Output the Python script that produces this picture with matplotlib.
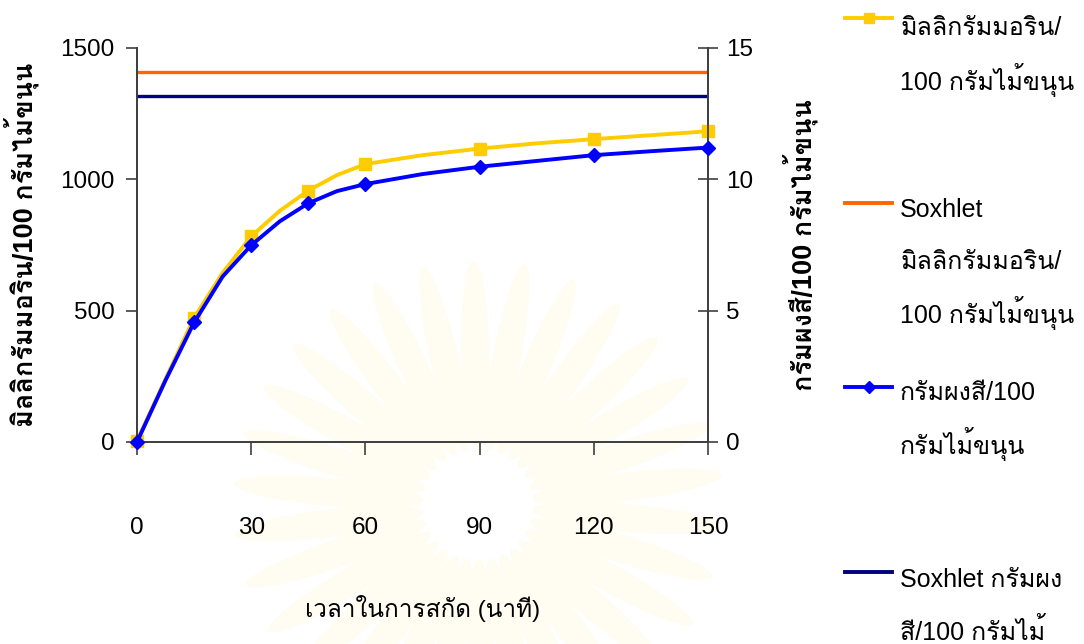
import matplotlib
matplotlib.use("Agg")
import numpy as np
import matplotlib.pyplot as plt
from matplotlib.lines import Line2D
from matplotlib.patches import Ellipse, Circle

# เวลาในการสกัด (นาที) - จุดบนเส้น
t = [0, 7.5, 15, 22.5, 30, 37.5, 45, 52.5, 60, 75, 90, 105, 120, 135, 150]
# จุดที่มี marker
t_mark = [0, 15, 30, 45, 60, 90, 120, 150]

# มิลลิกรัมมอริน/100 กรัมไม้ขนุน (แกนซ้าย)
morin = [5, 240, 473, 644, 783, 880, 957, 1016, 1058, 1092, 1117, 1137, 1153, 1168, 1183]
# กรัมผงสี/100 กรัมไม้ขนุน (แกนขวา)
powder = [0, 2.35, 4.55, 6.3, 7.49, 8.4, 9.09, 9.55, 9.82, 10.2, 10.48, 10.7, 10.92, 11.07, 11.21]

# ค่าจาก Soxhlet
soxhlet_morin = 1407
soxhlet_powder = 13.18

x_ticks = [0, 30, 60, 90, 120, 150]
left_ticks = [0, 500, 1000, 1500]
right_ticks = [0, 5, 10, 15]

labels = [["มิลลิกรัมมอริน/", "100 กรัมไม้ขนุน"],
          ["Soxhlet", "มิลลิกรัมมอริน/", "100 กรัมไม้ขนุน"],
          ["กรัมผงสี/100", "กรัมไม้ขนุน"],
          ["Soxhlet กรัมผง", "สี/100 กรัมไม้", "ขนุน"]]

FONT = ["Liberation Sans", "Loma"]
plt.rcParams["font.family"] = FONT

c_yellow = "#FFCC00"
c_orange = "#FF6600"
c_blue = "#0000FF"
c_navy = "#000080"
c_axis = "#404040"

W, H = 1084, 644
fig = plt.figure(figsize=(W / 100, H / 100), dpi=100)

# ลายน้ำจาง ๆ ด้านหลัง (หน่วยเป็นพิกเซล, แกน y กลับหัว)
bg = fig.add_axes([0, 0, 1, 1], zorder=-5)
bg.set_xlim(0, W)
bg.set_ylim(H, 0)
bg.axis("off")
cx, cy = 478, 505
for ang in np.arange(5, 365, 12):
    a = np.deg2rad(ang)
    r = 150
    bg.add_patch(Ellipse((cx + r * np.cos(a), cy + r * np.sin(a)), 190, 28,
                         angle=ang, facecolor="#FFFCF1", edgecolor="none"))
bg.add_patch(Circle((cx, cy), 55, facecolor="white", edgecolor="none"))

ax = fig.add_axes([137 / W, 1 - 442 / H, (708 - 137) / W, (442 - 48) / H])
ax.set_facecolor("none")
ax2 = ax.twinx()

mk_idx = [t.index(v) for v in t_mark]

ax.plot(t, morin, color=c_yellow, lw=2.8, marker="s", ms=8, markevery=mk_idx,
        clip_on=False, zorder=3)
ax.axhline(soxhlet_morin, color=c_orange, lw=2.4, zorder=2)
ax2.plot(t, powder, color=c_blue, lw=2.8, marker="D", ms=7, markevery=mk_idx,
         clip_on=False, zorder=4)
ax2.axhline(soxhlet_powder, color=c_navy, lw=2.4, zorder=2)

ax.set_xlim(0, 150)
ax.set_ylim(0, 1500)
ax2.set_ylim(0, 15)
ax.set_xticks(x_ticks)
ax.set_yticks(left_ticks)
ax2.set_yticks(right_ticks)

for a in (ax, ax2):
    for s in a.spines.values():
        s.set_color(c_axis)
        s.set_linewidth(1.3)
    a.spines["top"].set_visible(False)

ax.tick_params(axis="x", direction="out", length=9, width=1.2, color=c_axis,
               pad=45, labelsize=17.5)
ax.tick_params(axis="y", direction="out", length=8, width=1.2, color=c_axis,
               pad=8, labelsize=17.5)
ax2.tick_params(axis="y", direction="inout", length=14, width=1.2, color=c_axis,
                pad=6, labelsize=17.5)

ax.set_xlabel("เวลาในการสกัด (นาที)", fontsize=17.5, labelpad=40)
ax.set_ylabel("มิลลิกรัมมอริน/100 กรัมไม้ขนุน", fontsize=19.5, fontweight="bold",
              labelpad=15)
ax2.set_ylabel("กรัมผงสี/100 กรัมไม้ขนุน", fontsize=19.5, fontweight="bold",
               labelpad=22)

# legend วาดเองด้านขวา
handle_style = [(c_yellow, "s", 7), (c_orange, None, 0),
                (c_blue, "D", 6), (c_navy, None, 0)]
handle_y = [18, 203, 387, 572]
line_y = [[28, 80], [210, 262, 313], [393, 444], [580, 632, 684]]
for (col, mk, ms), hy, ys, lab in zip(handle_style, handle_y, line_y, labels):
    yf = 1 - hy / H
    fig.add_artist(Line2D([845 / W, 892 / W], [yf, yf], transform=fig.transFigure,
                          color=col, lw=2.8))
    if mk:
        fig.add_artist(Line2D([868.5 / W], [yf], transform=fig.transFigure,
                              color=col, marker=mk, ms=ms, lw=0))
    for y, line in zip(ys, lab):
        if y + 10 > H:
            continue
        fig.text(900 / W, 1 - y / H, line, ha="left", va="center", fontsize=18)

fig.savefig("out.png", dpi=100)
